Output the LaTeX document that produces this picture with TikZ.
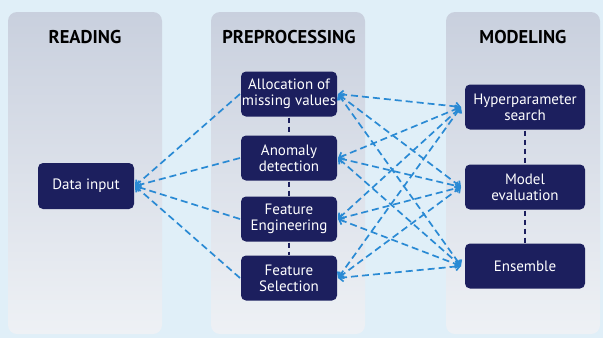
\documentclass[tikz,border=0pt]{standalone}
\usepackage{fontspec}
\setmainfont{PT Sans}
\usetikzlibrary{arrows.meta}
\definecolor{bgblue}{HTML}{E0EFF8}
\definecolor{paneltop}{HTML}{C9D0DE}
\definecolor{panelbot}{HTML}{EEF1F5}
\definecolor{navy}{HTML}{1C1F5E}
\definecolor{linkblue}{HTML}{2A8AD4}
\tikzset{
  panel/.style={top color=paneltop, bottom color=panelbot, rounded corners=9pt},
  stage/.style={font=\bfseries\fontsize{18.5}{20}\selectfont, text=black},
  proc/.style={fill=navy, text=white, rounded corners=5pt, align=center,
    font=\fontsize{15}{16}\selectfont, inner sep=0pt, outer sep=1pt},
  link/.style={draw=linkblue, line width=1.7pt, dash pattern=on 7pt off 4pt,
    arrows={-Straight Barb[length=4pt,width=8pt]}},
  biglink/.style={link, arrows={Straight Barb[length=4pt,width=8pt]-Straight Barb[length=4pt,width=8pt]}},
  chain/.style={draw=navy, line width=1.8pt, dash pattern=on 5pt off 4pt}
}
\begin{document}
\begin{tikzpicture}[x=1pt,y=-1pt]
  \useasboundingbox (0,0) rectangle (603,338);
  \fill[bgblue] (0,0) rectangle (603,338);

  % three stage panels
  \shade[panel] (8,12) rectangle (162,334);
  \shade[panel] (211,12) rectangle (365,334);
  \shade[panel] (446,12) rectangle (600,334);

  \node[stage] (tread) at (85,37) {READING};
  \node[stage] (tpre) at (289,37) {PREPROCESSING};
  \node[stage] (tmod) at (523,37) {MODELING};

  % process boxes
  \node[proc, minimum width=96pt, minimum height=46pt] (data) at (86,186) {Data input};
  \node[proc, minimum width=96pt, minimum height=45pt] (alloc) at (289,94) {Allocation of\\missing values};
  \node[proc, minimum width=96pt, minimum height=45pt] (anom) at (289,158) {Anomaly\\detection};
  \node[proc, minimum width=96pt, minimum height=45pt] (feng) at (289,219) {Feature\\Engineering};
  \node[proc, minimum width=96pt, minimum height=45pt] (fsel) at (289,278) {Feature\\Selection};
  \node[proc, minimum width=120pt, minimum height=45pt] (hyper) at (525,107) {Hyperparameter\\search};
  \node[proc, minimum width=120pt, minimum height=45pt] (meval) at (525,187) {Model\\evaluation};
  \node[proc, minimum width=120pt, minimum height=45pt] (ens) at (525,266) {Ensemble};

  % links inside each stage
  \draw[chain] (alloc.south) -- (anom.north);
  \draw[chain] (anom.south) -- (feng.north);
  \draw[chain] (feng.south) -- (fsel.north);
  \draw[chain] (hyper.south) -- (meval.north);
  \draw[chain] (meval.south) -- (ens.north);

  % reading to preprocessing
  \foreach \p in {alloc,anom,feng,fsel}
    \draw[link] (\p.west) -- (data.east);

  % preprocessing to modeling
  \foreach \p in {alloc,anom,feng,fsel}
    \foreach \m in {hyper,meval,ens}
      \draw[biglink] (\p.east) -- ([xshift=-3pt]\m.west);
\end{tikzpicture}
\end{document}
